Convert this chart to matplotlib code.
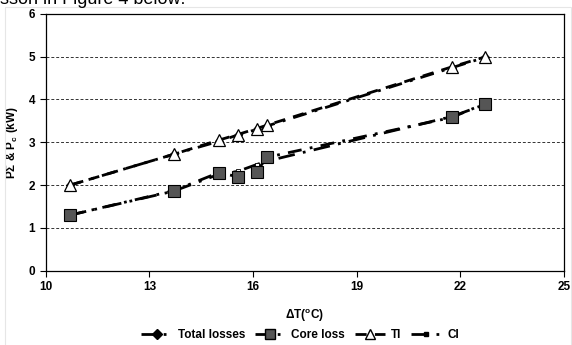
import matplotlib
matplotlib.use("Agg")
import matplotlib.pyplot as plt
from matplotlib.lines import Line2D
from matplotlib.patches import Rectangle

plt.rcParams['font.family'] = ['Liberation Sans', 'DejaVu Sans']
plt.rcParams['mathtext.fontset'] = 'custom'
plt.rcParams['mathtext.rm'] = 'Liberation Sans:bold'
plt.rcParams['mathtext.it'] = 'Liberation Sans:bold'
plt.rcParams['mathtext.bf'] = 'Liberation Sans:bold'

# Temperature rise (°C)
delta_t = [10.7, 13.7, 15.0, 15.55, 16.1, 16.4, 21.75, 22.7]
# Measured losses (kW)
total_losses = [2.0, 2.72, 3.02, 3.17, 3.3, 3.38, 4.74, 4.98]
core_loss = [1.3, 1.87, 2.29, 2.2, 2.31, 2.65, 3.58, 3.9]
# Fitted losses (kW)
ti = [2.0, 2.72, 3.05, 3.18, 3.32, 3.4, 4.76, 4.99]
ci = [1.3, 1.86, 2.25, 2.32, 2.48, 2.56, 3.6, 3.88]

x_ticks = [10, 13, 16, 19, 22, 25]
y_ticks = [0, 1, 2, 3, 4, 5, 6]

fig = plt.figure(figsize=(5.72, 3.45), dpi=100)

# faint chart-area border
fig.patches.append(Rectangle((5 / 572, -0.01), 566 / 572, 1 - 7 / 345 + 0.01,
                             transform=fig.transFigure, fill=False,
                             edgecolor='#e6e6e6', lw=0.8))

ax = fig.add_axes([0.080, 0.215, 0.906, 0.745])

dash_dot = (0, (5, 3, 1, 3))
long_dash_dot = (0, (6, 3, 1, 3))
ax.plot(delta_t, total_losses, color='black', lw=2, linestyle=dash_dot,
        marker='D', ms=4, mfc='white', mec='black', mew=0.8, zorder=3)
ax.plot(delta_t, core_loss, color='black', lw=2, linestyle=dash_dot,
        marker='s', ms=8, mfc='#555555', mec='black', mew=0.8, zorder=4)
ax.plot(delta_t, ti, color='black', lw=2, linestyle=(0, (4, 3)),
        marker='^', ms=8, mfc='white', mec='black', mew=0.9, zorder=5)
ax.plot(delta_t, ci, color='black', lw=2, linestyle=long_dash_dot,
        marker='s', ms=3, mfc='white', mec='black', mew=0.6, zorder=3)

ax.set_xlim(10, 25)
ax.set_ylim(0, 6)
ax.set_xticks(x_ticks)
ax.set_yticks(y_ticks)
ax.tick_params(axis='both', labelsize=8.5, length=4, width=0.8, direction='out')
for lab in ax.get_xticklabels() + ax.get_yticklabels():
    lab.set_fontweight('bold')
ax.grid(axis='y', linestyle=(0, (3, 2)), color='#333333', lw=0.7)
for s in ax.spines.values():
    s.set_linewidth(0.9)

ax.set_xlabel(r'$\Delta$T($^{\rm o}$C)', fontsize=8.5, fontweight='bold', labelpad=10)
ax.set_ylabel(r'P$\Sigma$ & P$_{\rm c}$ (kW)', fontsize=8.5, fontweight='bold', labelpad=6)

handles = [
    Line2D([], [], color='black', lw=2, linestyle=dash_dot, marker='D', ms=5,
           mfc='black', mec='black'),
    Line2D([], [], color='black', lw=2, linestyle=dash_dot, marker='s', ms=7,
           mfc='#555555', mec='black'),
    Line2D([], [], color='black', lw=2, linestyle=(0, (4, 3)), marker='^', ms=7,
           mfc='white', mec='black'),
    Line2D([], [], color='black', lw=2, linestyle=long_dash_dot, marker='s',
           ms=3, mfc='black', mec='black'),
]
fig.legend(handles, ['Total losses', 'Core loss', 'TI', 'CI'],
           loc='center', bbox_to_anchor=(0.525, 0.03), ncol=4, frameon=False,
           prop={'size': 8.5, 'weight': 'bold'}, handlelength=2.6,
           columnspacing=0.8, handletextpad=0.5)

fig.text(0.0, 1 - 4 / 345, 'sson in Figure 4 below:', fontsize=13, va='baseline')

fig.savefig('out.png', dpi=100)
